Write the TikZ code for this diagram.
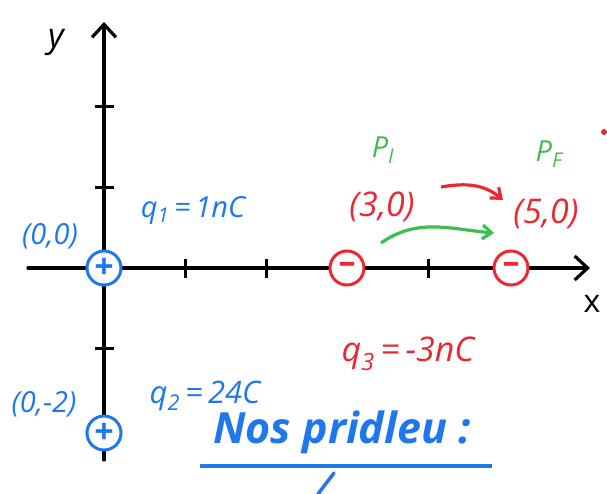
\documentclass[tikz,border=0pt]{standalone}
\usepackage{fontspec}
\setmainfont{Open Sans}
\usetikzlibrary{arrows.meta}
\definecolor{hblue}{RGB}{30,120,235}
\definecolor{hred}{RGB}{235,40,50}
\definecolor{hgreen}{RGB}{60,190,80}
\tikzset{
  axis/.style={line width=3.2pt, line cap=round},
  tick/.style={line width=3pt},
  charge/.style={circle, draw, line width=3pt, minimum size=34pt, inner sep=0pt, font=\fontsize{34}{34}\selectfont\bfseries},
  lab/.style={font=\fontsize{29}{30}\selectfont\itshape, inner sep=1pt},
  big/.style={font=\fontsize{34}{34}\selectfont\itshape},
  arr/.style={line width=3.2pt, -{Straight Barb[length=9pt,width=14pt]}},
}
\newcommand{\mysub}[1]{\textsubscript{#1}}
\begin{document}
\begin{tikzpicture}[x=1pt,y=-1pt]
\useasboundingbox (0,0) rectangle (607,494);
\fill[white] (0,0) rectangle (607,494);
% axes
\coordinate (ytop) at (104,22);
\coordinate (ybot) at (104,460);
\coordinate (xl) at (28,268);
\coordinate (xr) at (590,268);
\draw[axis,-{Straight Barb[length=13pt,width=24pt,line width=3.2pt]}] (ybot) -- (ytop);
\draw[axis,-{Straight Barb[length=13pt,width=24pt,line width=3.2pt]}] (xl) -- (xr);
% ticks
\foreach \yy in {107,188,348} \draw[tick] (95,\yy) -- (114,\yy);
\foreach \xx in {185,266,428} \draw[tick] (\xx,259) -- (\xx,278);
\node[lab, font=\fontsize{34}{34}\selectfont\itshape] (ylab) at (56,42) {y};
\node[lab, font=\fontsize{32}{32}\selectfont] (xlab) at (592,304) {x};
% charges
\node[charge, draw=hblue, text=hblue, fill=white] (q1) at (104,268) {+};
\node[charge, draw=hblue, text=hblue, fill=white] (q2) at (104,433) {+};
\node[charge, draw=hred, text=hred, fill=white] (q3) at (347,268) {--};
\node[charge, draw=hred, text=hred, fill=white] (q3f) at (511,268) {--};
% labels
\node[lab, text=hblue] (l00) at (50,236) {(0,0)};
\node[lab, text=hblue] (lq1) at (193,210) {q\mysub{1}\,=\,1nC};
\node[lab, text=hblue] (l02) at (44,404) {(0,-2)};
\node[lab, text=hblue, font=\fontsize{31}{31}\selectfont\itshape] (lq2) at (205,396) {q\mysub{2}\,=\,24C};
\node[lab, text=hred, big] (l30) at (382,207) {(3,0)};
\node[lab, text=hred, big] (l50) at (546,214) {(5,0)};
\node[lab, text=hgreen] (pi) at (383,150) {P\mysub{I}};
\node[lab, text=hgreen] (pf) at (549,154) {P\mysub{F}};
\node[lab, text=hred, big] (lq3) at (408,354) {q\mysub{3}\,=\,-3nC};
\node[lab, text=hblue, font=\fontsize{43}{43}\selectfont\bfseries\itshape] (nos) at (342,432) {Nos pridleu :};
% arrows
\draw[arr, hred] (441,187) coordinate (ra) to[out=10, in=140] (503,200) coordinate (rb);
\draw[arr, hgreen] (381,243) coordinate (ga) to[out=35, in=175] (494,233) coordinate (gb);
% underline and stroke
\draw[hblue, line width=3.5pt] (200,466) -- (492,466);
\draw[hblue, line width=3.5pt, line cap=round] (318,494) -- (334,473);
\fill[hred] (604,132) circle (3pt);
\end{tikzpicture}
\end{document}
